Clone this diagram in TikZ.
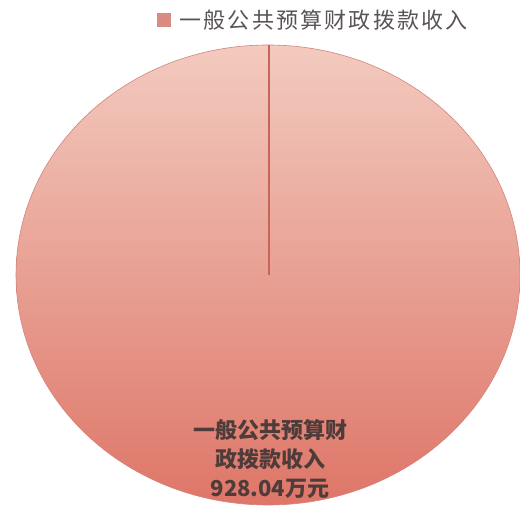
\documentclass[tikz,border=0pt]{standalone}
\usepackage{fontspec}
\usetikzlibrary{positioning}
\newfontfamily\cjk{Noto Sans CJK SC}
\definecolor{pietop}{HTML}{F3CABF}
\definecolor{piebot}{HTML}{DE7668}
\definecolor{pieline}{HTML}{C9645B}
\definecolor{keyfill}{HTML}{D98A82}
\definecolor{legtext}{HTML}{5A5454}
\definecolor{labtext}{HTML}{4E3C3A}
\begin{document}
\begin{tikzpicture}[x=1pt,y=1pt,every node/.style={inner sep=0pt,font=\cjk}]
        \tikzset{key/.style = {fill=keyfill,minimum size=14pt},
                 legend/.style = {text=legtext,font=\cjk\fontsize{22}{24}\selectfont\addfontfeature{LetterSpace=10}},
                 label/.style = {text=labtext,align=center,font=\cjk\bfseries\fontsize{22}{29}\selectfont}}
        \useasboundingbox (0,0) rectangle (520,508);
        \coordinate (O) at (268,233);
        \coordinate (T) at (269,463);
        
        \shade[top color=pietop,bottom color=piebot] (O) ellipse [x radius=252, y radius=230];
        \draw[pieline!80,line width=0.6pt] (O) ellipse [x radius=252, y radius=230];
        \draw[pieline,line width=1.3pt] (O) ++(1,0) coordinate (C) -- (T);
        
        \node[key] (K) at (164,488) {};
        \node[legend,right=8pt of K] (L) {一般公共预算财政拨款收入};
        
        \node[label] (P) at (270,49) {一般公共预算财\\政拨款收入\\928.04万元};
\end{tikzpicture}
\end{document}
